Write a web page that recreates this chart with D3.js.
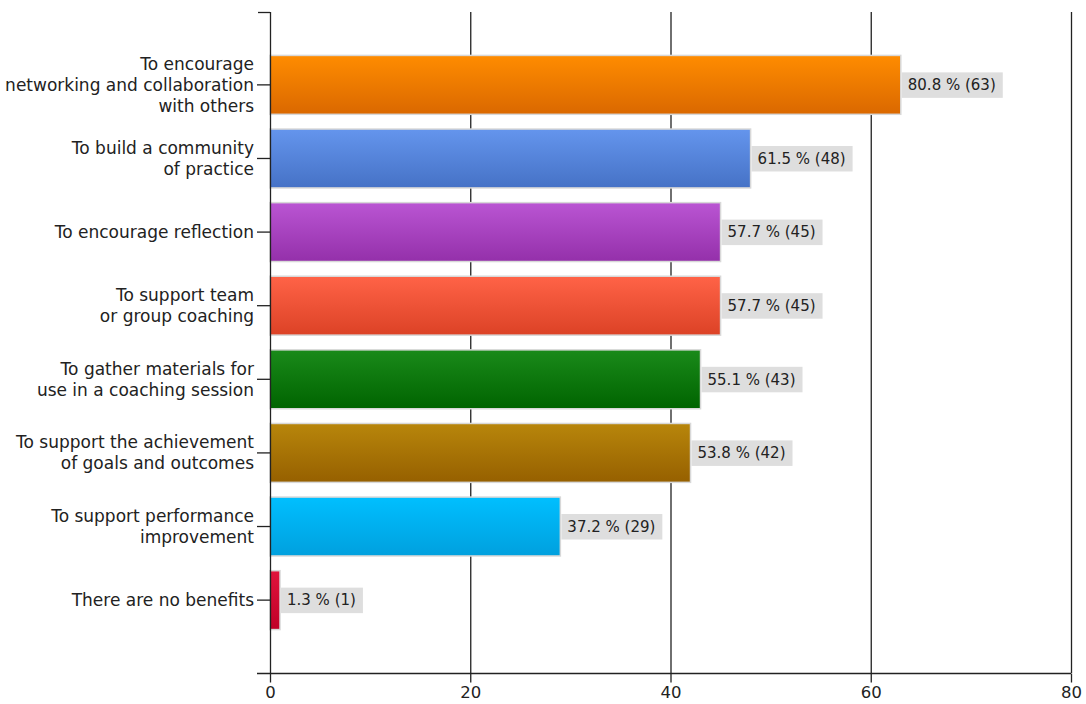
<!DOCTYPE html>
<html><head><meta charset="utf-8">
<script src="https://cdn.jsdelivr.net/npm/d3@7"></script>
<style>body{margin:0;background:#fff}svg{display:block}</style>
</head><body>
<svg id="c" width="1086" height="704"></svg>
<script>
const categories = [
  ["To encourage","networking and collaboration","with others"],
  ["To build a community","of practice"],
  ["To encourage reflection"],
  ["To support team","or group coaching"],
  ["To gather materials for","use in a coaching session"],
  ["To support the achievement","of goals and outcomes"],
  ["To support performance","improvement"],
  ["There are no benefits"]
];
const counts = [63, 48, 45, 45, 43, 42, 29, 1];
const percents = ["80.8", "61.5", "57.7", "57.7", "55.1", "53.8", "37.2", "1.3"];
const topColors = ["#ff8c00","#6495ed","#ba55d3","#ff6347","#1a8a1a","#b8860b","#00bfff","#e0143c"];
const bottomColors = ["#da6800","#4672c6","#9430aa","#dc4226","#006400","#966000","#00a0de","#c00028"];
const xTicks = [0, 20, 40, 60, 80];

const svg = d3.select("#c");
const font = "'DejaVu Sans', sans-serif";
const x = d3.scaleLinear().domain([0, 80]).range([270, 1071]);
const y = d3.scaleBand().domain(d3.range(categories.length)).range([12, 673]).paddingInner(0.2).paddingOuter(0.59);

const defs = svg.append("defs");
topColors.forEach((c, i) => {
  const g = defs.append("linearGradient").attr("id", "g" + i).attr("x1", 0).attr("y1", 0).attr("x2", 0).attr("y2", 1);
  g.append("stop").attr("offset", "0%").attr("stop-color", c);
  g.append("stop").attr("offset", "100%").attr("stop-color", bottomColors[i]);
});

// gridlines
svg.append("g").selectAll("line").data(xTicks.slice(1)).join("line")
  .attr("x1", d => x(d) + 0.5).attr("x2", d => x(d) + 0.5)
  .attr("y1", 12).attr("y2", 673).attr("stroke", "#222").attr("stroke-width", 1.3);

// x axis
const xa = svg.append("g").attr("transform", "translate(0,673.5)")
  .call(d3.axisBottom(x).tickValues(xTicks).tickSize(9).tickPadding(4).tickSizeOuter(0));
xa.select(".domain").attr("d", `M257,0H${x(80)}`).attr("stroke", "#222").attr("stroke-width", 1.3);
xa.selectAll(".tick line").attr("stroke", "#222").attr("stroke-width", 1.3);
xa.selectAll(".tick text").attr("font-family", font).attr("font-size", 16.5).attr("fill", "#222");

// bars
svg.append("g").selectAll("rect").data(counts).join("rect")
  .attr("x", x(0)).attr("y", (d, i) => y(i))
  .attr("width", d => x(d) - x(0)).attr("height", y.bandwidth())
  .attr("fill", (d, i) => `url(#g${i})`)
  .attr("stroke", "#d8d8d8").attr("stroke-width", 1.5);

// y axis
const ya = svg.append("g");
ya.append("line").attr("x1", x(0) + 0.5).attr("x2", x(0) + 0.5).attr("y1", 12).attr("y2", 674).attr("stroke", "#222").attr("stroke-width", 1.3);
ya.append("line").attr("x1", 258).attr("x2", x(0)).attr("y1", 12.5).attr("y2", 12.5).attr("stroke", "#222").attr("stroke-width", 1.3);
const lh = 21;
categories.forEach((lines, i) => {
  const cy = y(i) + y.bandwidth() / 2;
  ya.append("line").attr("x1", 257).attr("x2", x(0)).attr("y1", cy).attr("y2", cy).attr("stroke", "#222").attr("stroke-width", 1.3);
  const t = ya.append("text").attr("text-anchor", "end").attr("font-family", font).attr("font-size", 17).attr("fill", "#222");
  lines.forEach((l, j) => {
    t.append("tspan").attr("x", 254).attr("y", cy + (j - (lines.length - 1) / 2) * lh).attr("dy", "0.35em").text(l);
  });
});

// value labels
const lg = svg.append("g");
counts.forEach((d, i) => {
  const cy = y(i) + y.bandwidth() / 2;
  const g = lg.append("g");
  const txt = g.append("text").attr("x", x(d) + 7).attr("y", cy).attr("dy", "0.35em")
    .attr("font-family", font).attr("font-size", 15).attr("fill", "#222")
    .text(`${percents[i]} % (${d})`);
  const w = txt.node().getComputedTextLength();
  g.insert("rect", "text").attr("x", x(d) + 1).attr("y", cy - 12.5).attr("width", w + 13).attr("height", 25.5).attr("fill", "#dedede");
});
</script>
</body></html>
